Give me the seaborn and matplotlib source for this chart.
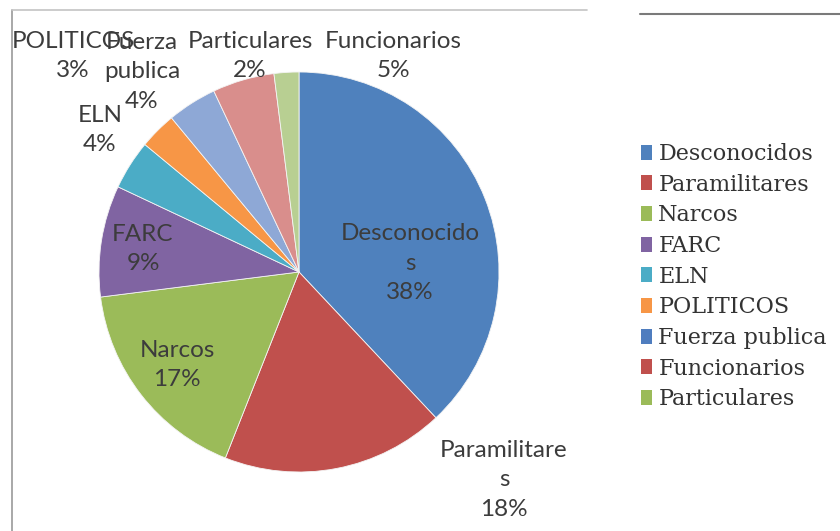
import matplotlib
matplotlib.use("Agg")
import matplotlib.pyplot as plt
from matplotlib.lines import Line2D
from matplotlib.patches import Rectangle
import seaborn as sns

# Responsables (share of cases, %)
categories = ["Desconocidos", "Paramilitares", "Narcos", "FARC", "ELN",
              "POLITICOS", "Fuerza publica", "Funcionarios", "Particulares"]
values = [38, 18, 17, 9, 4, 3, 4, 5, 2]
# names as wrapped inside the data labels
label_names = ["Desconocido\ns", "Paramilitare\ns", "Narcos", "FARC", "ELN",
               "POLITICOS", "Fuerza\npublica", "Funcionarios", "Particulares"]

slice_colors = ["#4F81BD", "#C0504D", "#9BBB59", "#8064A2", "#4BACC6",
                "#F79646", "#8EA8D6", "#D98E8C", "#B8CF92"]
legend_colors = ["#4F81BD", "#C0504D", "#9BBB59", "#8064A2", "#4BACC6",
                 "#F79646", "#4F7DBF", "#C0504D", "#9BBB59"]

# label anchor points in pixels (x, y from the top-left of the figure)
label_px = [(410, 263), (504, 480), (177, 365), (143, 249), (100, 130),
            (73, 56), (142, 72), (393, 56), (250, 56)]

sns.set_theme(style="white")
plt.rcParams["font.family"] = ["Lato", "DejaVu Sans"]

W, H = 840, 531
fig = plt.figure(figsize=(W / 100, H / 100), dpi=100)
fig.patch.set_facecolor("white")

# pie: centre (299, 272) px, radius 200 px
cx, cy, r = 299, 272, 200
ax = fig.add_axes([(cx - r) / W, (H - cy - r) / H, 2 * r / W, 2 * r / H])
ax.pie(values, colors=slice_colors, startangle=90, counterclock=False,
       radius=1, wedgeprops=dict(edgecolor="#f4f4f4", linewidth=0.6))
ax.set_xlim(-1, 1)
ax.set_ylim(-1, 1)
ax.set_axis_off()

for name, v, (px, py) in zip(label_names, values, label_px):
    ax.text((px - cx) / r, (cy - py) / r, f"{name}\n{v}%", ha="center",
            va="center", fontsize=17.5, color="#3c3c3c", linespacing=1.5,
            clip_on=False)

# legend
handles = [Rectangle((0, 0), 1, 1, facecolor=c, edgecolor="none")
           for c in legend_colors]
fig.legend(handles, categories, loc="upper left",
           bbox_to_anchor=(641 / W, 1 - 143 / H), frameon=False,
           prop={"family": "DejaVu Serif", "size": 16},
           labelcolor="#333333", handlelength=0.48, handleheight=0.65,
           handletextpad=0.3, labelspacing=0.39, borderpad=0,
           borderaxespad=0)

# chart border fragments
fig.add_artist(Line2D([12 / W, 12 / W], [1 - 10 / H, 0], color="#9a9a9a", lw=1.2))
fig.add_artist(Line2D([12 / W, 587 / W], [1 - 10 / H, 1 - 10 / H], color="#c4c4c4", lw=1.2))
fig.add_artist(Line2D([640 / W, 1], [1 - 13.5 / H, 1 - 13.5 / H], color="#7a7a7a", lw=1.5))

fig.savefig("out.png", dpi=100, facecolor="white")
